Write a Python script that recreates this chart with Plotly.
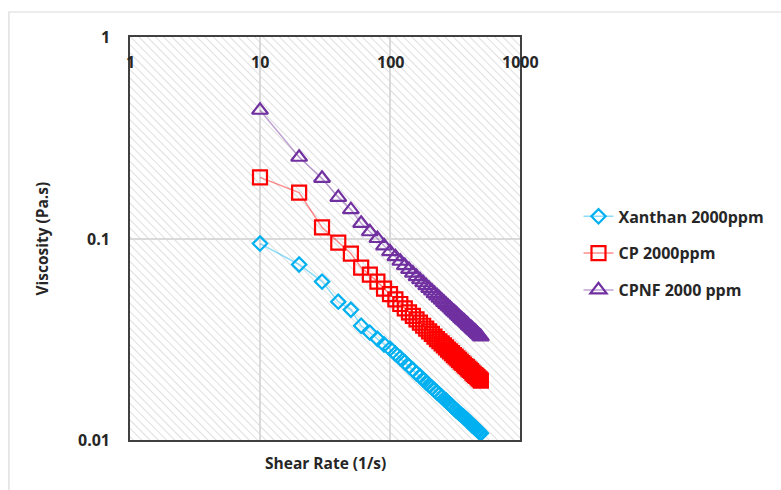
import math
import plotly.graph_objects as go

shear_rate = [10, 20, 30, 40, 50, 60, 70, 80, 90, 100,
              110, 120, 130, 140, 150, 160, 170, 180, 190, 200,
              210, 220, 230, 240, 250, 260, 270, 280, 290, 300,
              310, 320, 330, 340, 350, 360, 370, 380, 390, 400,
              410, 420, 430, 440, 450, 460, 470, 480, 490, 500]

xanthan = [0.0944, 0.0743, 0.0611, 0.0486, 0.0443, 0.0369, 0.0341, 0.0318, 0.0298, 0.0284,
           0.0268, 0.0255, 0.0243, 0.0232, 0.0223, 0.0214, 0.0207, 0.0200, 0.0193, 0.0187,
           0.0182, 0.0177, 0.0172, 0.0168, 0.0164, 0.0160, 0.0157, 0.0153, 0.0150, 0.0147,
           0.0144, 0.0141, 0.0139, 0.0136, 0.0134, 0.0132, 0.0130, 0.0128, 0.0126, 0.0124,
           0.0122, 0.0120, 0.0118, 0.0117, 0.0115, 0.0114, 0.0112, 0.0111, 0.0109, 0.0108]

cp = [0.201, 0.169, 0.1135, 0.0955, 0.0842, 0.0717, 0.0662, 0.0611, 0.0564, 0.0529,
      0.0499, 0.0473, 0.0450, 0.0430, 0.0413, 0.0397, 0.0382, 0.0369, 0.0357, 0.0346,
      0.0336, 0.0326, 0.0317, 0.0309, 0.0302, 0.0295, 0.0288, 0.0281, 0.0275, 0.0270,
      0.0264, 0.0259, 0.0254, 0.0250, 0.0245, 0.0241, 0.0237, 0.0233, 0.0230, 0.0226,
      0.0223, 0.0220, 0.0216, 0.0213, 0.0210, 0.0208, 0.0205, 0.0202, 0.0200, 0.0197]

cpnf = [0.433, 0.253, 0.199, 0.160, 0.139, 0.119, 0.108, 0.100, 0.092, 0.086,
        0.0812, 0.0771, 0.0734, 0.0702, 0.0673, 0.0647, 0.0624, 0.0603, 0.0583, 0.0565,
        0.0549, 0.0533, 0.0519, 0.0506, 0.0494, 0.0482, 0.0471, 0.0461, 0.0452, 0.0442,
        0.0434, 0.0426, 0.0418, 0.0410, 0.0403, 0.0396, 0.0390, 0.0384, 0.0378, 0.0372,
        0.0366, 0.0361, 0.0356, 0.0351, 0.0347, 0.0342, 0.0337, 0.0333, 0.0329, 0.0325]

series_names = ["Xanthan 2000ppm", "CP 2000ppm", "CPNF 2000 ppm"]
x_ticks = [1, 10, 100, 1000]
x_ticktext = ["1", "10", "100", "1000"]
y_ticks = [0.01, 0.1, 1]
y_ticktext = ["0.01", "0.1", "1"]

FONT = "Open Sans"
TXT = "#262626"

fig = go.Figure()
styles = [
    (xanthan, "diamond-open", "#00B0F0", "rgba(0,176,240,0.45)", 11),
    (cp, "square-open", "#FF0000", "rgba(255,0,0,0.45)", 14),
    (cpnf, "triangle-up-open", "#7030A0", "rgba(112,48,160,0.45)", 14),
]
for name, (vals, sym, col, lcol, sz) in zip(series_names, styles):
    fig.add_trace(go.Scatter(
        x=shear_rate, y=vals, name=name, legendgroup=name,
        mode="lines+markers",
        line=dict(color=lcol, width=1.5),
        marker=dict(symbol=sym, size=sz, color=col, line=dict(color=col, width=2.2)),
    ))

# hatched plot background
svg = ("<svg xmlns='http://www.w3.org/2000/svg' width='400' height='410'>"
       "<defs><pattern id='p' width='6' height='6' patternUnits='userSpaceOnUse' "
       "patternTransform='rotate(-45)'><line x1='0' y1='0' x2='0' y2='6' "
       "stroke='%23d3d3d3' stroke-width='1.5'/></pattern></defs>"
       "<rect width='400' height='410' fill='white'/>"
       "<rect width='400' height='410' fill='url(%23p)'/></svg>")
fig.add_layout_image(dict(
    source="data:image/svg+xml;utf8," + svg,
    xref="paper", yref="paper", x=0, y=1, sizex=1, sizey=1,
    xanchor="left", yanchor="top", sizing="stretch", layer="below",
))

# outer chart border
fig.add_shape(type="rect", xref="paper", yref="paper",
              x0=-0.3104, x1=1.7, y0=-0.2, y1=1.062,
              line=dict(color="#d9d9d9", width=1.2), layer="below")

tickfont = dict(family=FONT, size=16, color=TXT, weight="bold")

# x tick labels (drawn inside, below the top edge)
for v, t in zip(x_ticks, x_ticktext):
    fig.add_annotation(text=t, x=math.log10(v), xref="x", y=0.938, yref="paper",
                       xanchor="center", yanchor="middle", showarrow=False, font=tickfont)
# y tick labels
for v, t in zip(y_ticks, y_ticktext):
    fig.add_annotation(text=t, x=-0.045, xref="paper", y=math.log10(v), yref="y",
                       xanchor="right", yanchor="middle", showarrow=False, font=tickfont)

fig.update_layout(
    width=781, height=490,
    margin=dict(l=130, r=258, t=37, b=50),
    paper_bgcolor="white", plot_bgcolor="rgba(0,0,0,0)",
    font=dict(family=FONT, color=TXT, size=14, weight="bold"),
    showlegend=True,
    legend=dict(x=1.15, y=0.597, xanchor="left", yanchor="top",
                font=dict(family=FONT, size=16, color=TXT, weight="bold"),
                tracegroupgap=13, bgcolor="rgba(0,0,0,0)"),
    xaxis=dict(type="log", range=[0, 3], side="top",
               tickvals=x_ticks, showticklabels=False, ticks="",
               showgrid=True, gridcolor="#d9d9d9", gridwidth=1.5,
               showline=True, linecolor="#404040", linewidth=1.8, mirror=True,
               zeroline=False, title=None),
    yaxis=dict(type="log", range=[-2, 0],
               tickvals=y_ticks, showticklabels=False, ticks="",
               showgrid=True, gridcolor="#d9d9d9", gridwidth=1.5,
               showline=True, linecolor="#404040", linewidth=1.8, mirror=True,
               zeroline=False, title=None),
)

fig.add_annotation(text="Viscosity (Pa.s)", xref="paper", yref="paper",
                   x=-0.228, y=0.5, textangle=-90, xanchor="center", yanchor="middle",
                   showarrow=False,
                   font=dict(family=FONT, size=15.5, color=TXT, weight="bold"))
fig.add_annotation(text="Shear Rate (1/s)", xref="paper", yref="paper",
                   x=0.5, y=-0.025, xanchor="center", yanchor="top", showarrow=False,
                   font=dict(family=FONT, size=15.5, color=TXT, weight="bold"))

fig.write_html("out.html")
